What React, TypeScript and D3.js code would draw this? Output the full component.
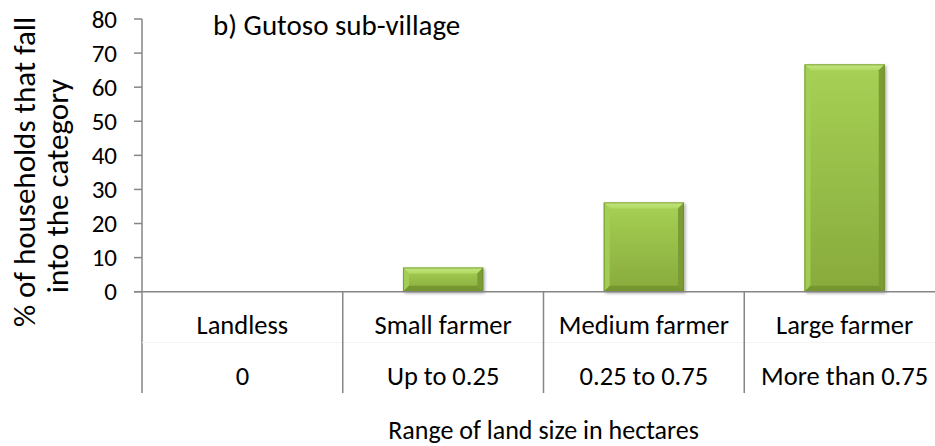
import React from 'react';
import * as d3 from 'd3';

const categories = ['Landless', 'Small farmer', 'Medium farmer', 'Large farmer'];
const ranges = ['0', 'Up to 0.25', '0.25 to 0.75', 'More than 0.75'];
const values = [0, 7.1, 26.2, 66.7];
const yTicks = [0, 10, 20, 30, 40, 50, 60, 70, 80];
const title = 'b) Gutoso sub-village';
const yTitle = ['% of households that fall', 'into the category'];
const xTitle = 'Range of land size in hectares';

const FONT = 'Carlito, Calibri, Lato, sans-serif';

export default function App() {
  const W = 935;
  const H = 446;
  const x = d3.scaleBand<string>().domain(categories).range([142, 945]).paddingInner(0).paddingOuter(0);
  const y = d3.scaleLinear().domain([0, 80]).range([291.7, 19]);
  const bw = x.bandwidth();
  const axisColor = '#868686';
  const bev = 6;

  return (
    <svg width={W} height={H} style={{ position: 'absolute', left: 0, top: 0, background: '#fff' }} fontFamily={FONT}>
      <defs>
        <linearGradient id="barGrad" x1="0" y1="0" x2="0" y2="1">
          <stop offset="0" stopColor="#a6d155" />
          <stop offset="1" stopColor="#88aa3c" />
        </linearGradient>
        <linearGradient id="topBev" x1="0" y1="0" x2="0" y2="1">
          <stop offset="0" stopColor="#c4e681" />
          <stop offset="1" stopColor="#b0da62" />
        </linearGradient>
        <filter id="shadow" x="-20%" y="-20%" width="140%" height="140%">
          <feDropShadow dx="1.5" dy="1.5" stdDeviation="1.5" floodColor="#000" floodOpacity="0.35" />
        </filter>
      </defs>
      <rect x={0} y={0} width={W} height={H} fill="#fff" />

      {/* bars */}
      {values.map((v, i) => {
        const x0 = (x(categories[i]) as number) + bw * 0.3;
        const w = bw * 0.4;
        const y0 = y(v);
        const y1 = y(0);
        const h = y1 - y0;
        if (h < 1) return null;
        const b = Math.min(bev, h / 2, w / 2);
        return (
          <g key={i}>
            <rect x={x0} y={y0} width={w} height={h} fill="url(#barGrad)" filter="url(#shadow)" />
            <polygon points={`${x0},${y0} ${x0 + w},${y0} ${x0 + w - b},${y0 + b} ${x0 + b},${y0 + b}`} fill="url(#topBev)" />
            <polygon points={`${x0},${y0} ${x0 + b},${y0 + b} ${x0 + b},${y1 - b} ${x0},${y1}`} fill="#a4cf57" opacity={0.9} />
            <polygon points={`${x0 + w},${y0} ${x0 + w},${y1} ${x0 + w - b},${y1 - b} ${x0 + w - b},${y0 + b}`} fill="#7b9c35" />
            <polygon points={`${x0},${y1} ${x0 + w},${y1} ${x0 + w - b},${y1 - b} ${x0 + b},${y1 - b}`} fill="#76962f" />
            <rect x={x0 + 0.5} y={y0 + 0.5} width={w - 1} height={h - 1} fill="none" stroke="#6a8a2a" strokeWidth={1} opacity={0.7} />
          </g>
        );
      })}

      {/* y axis */}
      <line x1={142} x2={142} y1={y(80)} y2={393} stroke={axisColor} strokeWidth={1.5} />
      {yTicks.map((t) => (
        <g key={t}>
          <line x1={134} x2={142} y1={y(t)} y2={y(t)} stroke={axisColor} strokeWidth={1.5} />
          <text x={117} y={y(t) + 8.5} textAnchor="end" fontSize={25} fill="#000">
            {t}
          </text>
        </g>
      ))}

      {/* x axis */}
      <line x1={134} x2={W} y1={y(0)} y2={y(0)} stroke={axisColor} strokeWidth={1.5} />
      <line x1={142} x2={W} y1={342.5} y2={342.5} stroke="#f4f4f4" strokeWidth={1} />
      {categories.map((c) => {
        const xs = (x(c) as number) + bw;
        return <line key={c} x1={xs} x2={xs} y1={y(0)} y2={393} stroke={axisColor} strokeWidth={1.5} />;
      })}
      {categories.map((c, i) => {
        const cx = (x(c) as number) + bw / 2;
        return (
          <g key={c}>
            <text x={cx} y={334} textAnchor="middle" fontSize={26.5} fill="#000">
              {c}
            </text>
            <text x={cx} y={385} textAnchor="middle" fontSize={26.5} fill="#000">
              {ranges[i]}
            </text>
          </g>
        );
      })}

      {/* titles */}
      <text x={213} y={35} fontSize={29} fill="#000">
        {title}
      </text>
      <text x={543.5} y={439} textAnchor="middle" fontSize={26} fill="#000">
        {xTitle}
      </text>
      <text transform={`translate(35,172) rotate(-90)`} textAnchor="middle" fontSize={31} fill="#000">
        {yTitle[0]}
      </text>
      <text transform={`translate(68,186) rotate(-90)`} textAnchor="middle" fontSize={31} fill="#000">
        {yTitle[1]}
      </text>
    </svg>
  );
}
